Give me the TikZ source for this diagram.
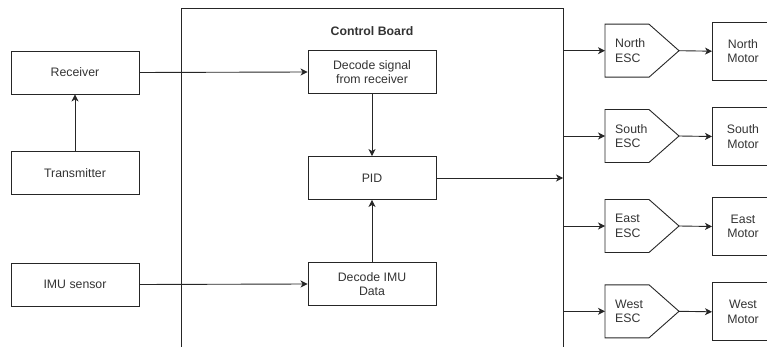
\documentclass[tikz,border=0pt]{standalone}
\usepackage{fontspec}
\setmainfont{Liberation Sans}
\usetikzlibrary{arrows.meta,shapes.geometric}
\begin{document}
\begin{tikzpicture}[x=1pt,y=-1pt,
  every node/.style={font=\fontsize{12.3}{14.5}\selectfont, text=black!80},
  box/.style={draw=black!85, line width=0.9pt, minimum width=128pt, minimum height=43pt, inner sep=0pt, align=center},
  motorbox/.style={draw=black!85, line width=0.9pt, minimum width=64pt, minimum height=58pt, inner sep=0pt, align=center},
  link/.style={draw=black!85, line width=0.9pt, -{Stealth[length=7pt,width=7pt,inset=2pt]}},
  wire/.style={draw=black!85, line width=0.9pt}]
\useasboundingbox (0,0) rectangle (767,347);
\clip (0,0) rectangle (767,347);

% control board frame (runs past the lower edge)
\draw[wire] (181,360) -- (181,8) -- (563,8) -- (563,360);
\node[font=\bfseries\fontsize{12.3}{14.5}\selectfont] (cb) at (372,31) {Control Board};

% inputs on the left
\node[box] (rx) at (75,72.5) {Receiver};
\node[box] (tx) at (75,173) {Transmitter};
\node[box] (imu) at (75,284.5) {IMU sensor};

% blocks inside the board
\node[box] (dec) at (372,72) {Decode signal\\from receiver};
\node[box] (pid) at (372,178) {PID};
\node[box] (dimu) at (372,284) {Decode IMU\\Data};

\coordinate (out) at (563,178);

\draw[link] (tx.north) -- (rx.south);
\draw[link] (rx.east) -- (dec.west);
\draw[link] (imu.east) -- (dimu.west);
\draw[link] (dec.south) -- (pid.north);
\draw[link] (dimu.north) -- (pid.south);
\draw[link] (pid.east) -- (out);

% speed controllers and motors
\foreach \nm/\yy in {North/50.7, South/136, East/226, West/311.3}{
  \coordinate (tap\nm) at (563,\yy);
  \draw[wire] (605,\yy-26.5) -- (649,\yy-26.5) -- (679,\yy) -- (649,\yy+26.5)
     -- (605,\yy+26.5) -- cycle;
  \coordinate (esc\nm) at (605,\yy);
  \coordinate (tip\nm) at (679,\yy);
  \node[anchor=west, align=left, inner sep=0pt] (lab\nm) at (615,\yy) {\nm\\ESC};
  \node[motorbox, anchor=west] (mot\nm) at (712,\yy+0.5) {};
  \node[align=center, inner sep=0pt] (mt\nm) at (743,\yy+0.5) {\nm\\Motor};
  \draw[link] (tap\nm) -- (esc\nm);
  \draw[link] (tip\nm) -- (mot\nm.west);
}
\end{tikzpicture}
\end{document}
